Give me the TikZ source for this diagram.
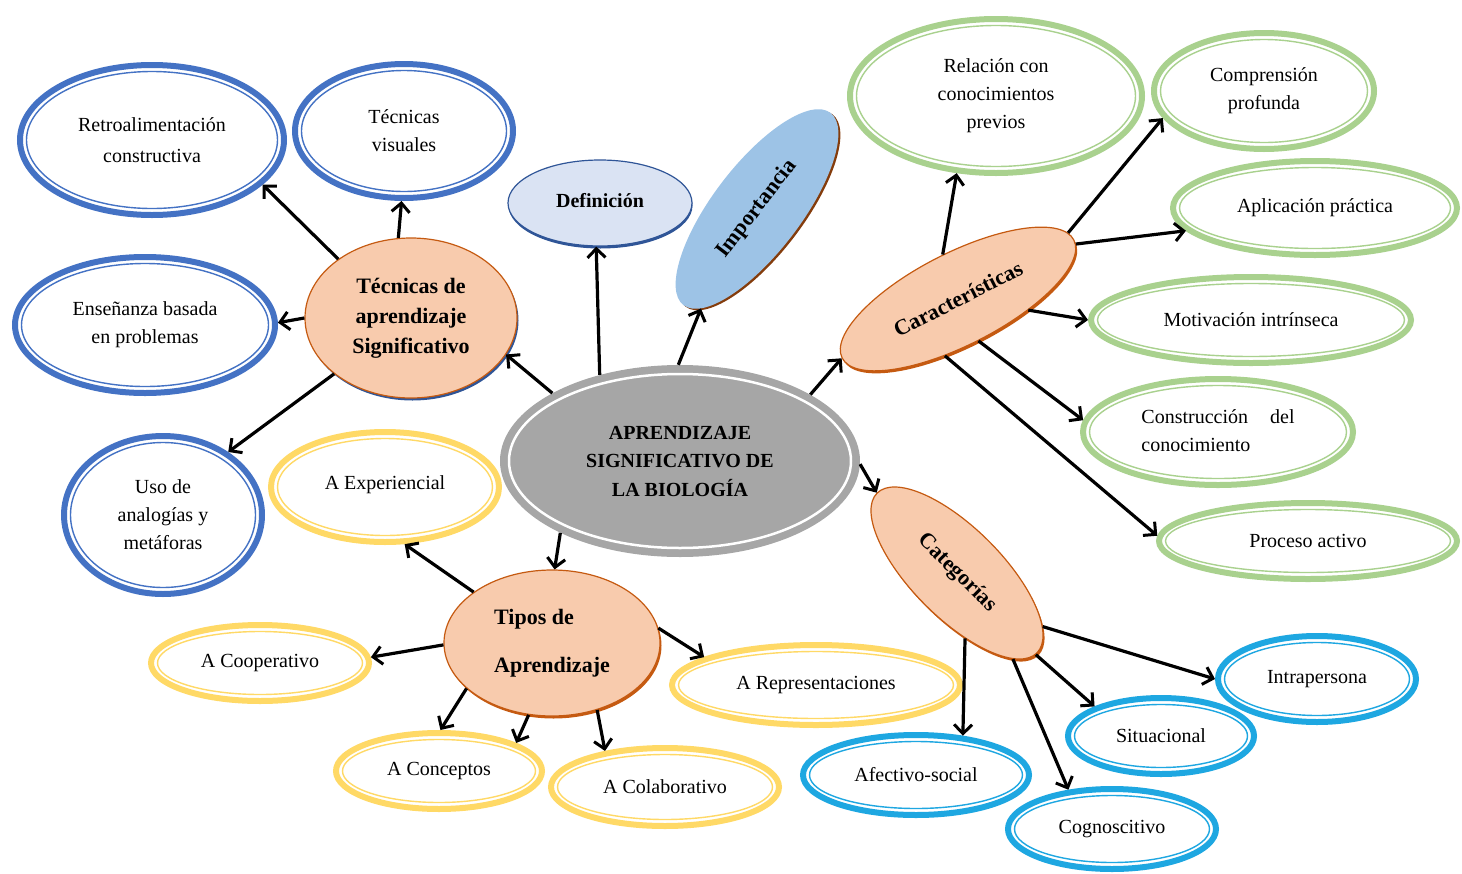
\documentclass[tikz,border=0pt]{standalone}
\usepackage{fontspec}
\setmainfont{Liberation Serif}
\usetikzlibrary{shapes.geometric,arrows.meta,shadows}
\definecolor{ringB}{HTML}{4472C4}
\definecolor{ringG}{HTML}{A9D18E}
\definecolor{ringY}{HTML}{FFD966}
\definecolor{ringC}{HTML}{1EA7E1}
\definecolor{peach}{HTML}{F8CBAD}
\definecolor{peachD}{HTML}{C55A11}
\definecolor{grayC}{HTML}{A6A6A6}
\definecolor{defF}{HTML}{DAE3F3}
\definecolor{defD}{HTML}{2F5597}
\definecolor{impF}{HTML}{9DC3E6}
\definecolor{impD}{HTML}{843C0C}
\newcommand\fsreg{\fontsize{20}{28}\selectfont}
\newcommand\fsbold{\bfseries\fontsize{22}{30}\selectfont}
\newcommand\dnode[7]{%
  \node[ring=#6, minimum width={2*#4-6}, minimum height={2*#5-6}] (#1) at (#2,#3) {#7};
  \draw[#6, line width=1.4pt] (#2,#3) ellipse [x radius={#4-9.5}, y radius={#5-9.5}];
}
\begin{document}
\begin{tikzpicture}[x=1pt,y=-1pt,
  ring/.style={ellipse, draw=#1, line width=6pt, fill=white, inner sep=0pt, align=center, font=\fsreg},
  main/.style={ellipse, inner sep=0pt, align=center, font=\fsbold},
  peachnode/.style={main, fill=peach, draw=peachD, line width=1.2pt,
     general shadow={fill=#1, shadow xshift=1.5pt, shadow yshift=-2.5pt}},
  arr/.style={line width=3.2pt, -{Straight Barb[length=9pt,width=18pt,line width=3pt]}}]
\useasboundingbox (0,0) rectangle (1462,873);

% central node
\node[main, fill=grayC, minimum width=360, minimum height=192,
  font=\bfseries\fontsize{20}{28.5}\selectfont] (cen) at (680,461)
  {APRENDIZAJE\\SIGNIFICATIVO DE\\LA BIOLOGÍA};
\draw[white, line width=2.5pt] (680,461) ellipse [x radius=171, y radius=87];

% main branch nodes
\node[peachnode=defD, minimum width=212, minimum height=160] (tec) at (411,318)
  {Técnicas de\\aprendizaje\\Significativo};
\node[peachnode=peachD, minimum width=216, minimum height=146, align=left] (tip) at (552,643)
  {Tipos de\\[18pt]Aprendizaje};
\node[peachnode=peachD, minimum width=260, minimum height=92, rotate=27] (car) at (958,299)
  {Características};
\node[peachnode=peachD, minimum width=226, minimum height=90, rotate=-45] (cat) at (957,573)
  {Categorías};
\node[main, fill=defF, draw=defD, line width=1.2pt, minimum width=184, minimum height=86,
  font=\bfseries\fontsize{20}{24}\selectfont,
  general shadow={fill=defD, shadow xshift=0.5pt, shadow yshift=-2.5pt}] (def) at (600,203)
  {\raisebox{6pt}{Definición}};
\node[main, fill=impF, minimum width=242, minimum height=88, rotate=52.6,
  general shadow={fill=impD, shadow xshift=2pt, shadow yshift=-1.5pt}] (imp) at (757,209)
  {Importancia};

% blue
\dnode{retro}{152}{140}{135}{78}{ringB}{Retroalimentación\\[3pt]constructiva}
\dnode{vis}{404}{131}{112}{70}{ringB}{Técnicas\\visuales}
\dnode{ens}{145}{325}{133}{71}{ringB}{Enseñanza basada\\en problemas}
\dnode{uso}{163}{515}{102}{82}{ringB}{Uso de\\analogías y\\metáforas}
% green
\dnode{rel}{996}{96}{149}{80}{ringG}{Relación con\\conocimientos\\previos}
\dnode{comp}{1264}{91}{113}{61}{ringG}{Comprensión\\profunda}
\dnode{apl}{1315}{208}{145}{50}{ringG}{\raisebox{4pt}{Aplicación práctica}}
\dnode{mot}{1251}{320}{163}{46}{ringG}{Motivación intrínseca}
\dnode{cons}{1218}{432}{138}{56}{ringG}{\begin{tabular}{@{}l@{}}Construcción\hspace{22pt}del\\conocimiento\end{tabular}}
\dnode{pro}{1308}{541}{152}{41}{ringG}{Proceso activo}
% yellow
\dnode{exp}{385}{487}{117}{58}{ringY}{\raisebox{8pt}{A Experiencial}}
\dnode{coo}{260}{663}{112}{41}{ringY}{A Cooperativo}
\dnode{rep}{816}{685}{147}{43}{ringY}{A Representaciones}
\dnode{con}{439}{771}{106}{41}{ringY}{A Conceptos}
\dnode{col}{665}{787}{117}{42}{ringY}{A Colaborativo}
% cyan
\dnode{intra}{1317}{679}{102}{46}{ringC}{Intrapersona}
\dnode{sit}{1161}{736}{96}{41}{ringC}{Situacional}
\dnode{afe}{916}{775}{116}{43}{ringC}{Afectivo-social}
\dnode{cog}{1112}{829}{107}{43}{ringC}{Cognoscitivo}

% connectors
\draw[arr] (cen.152.5) -- (tec.-21);
\draw[arr] (cen.133.6) -- (def.-95);
\draw[arr] (cen.91) -- (imp.188);
\draw[arr] (cen.27.4) -- (car.180);
\draw[arr] (cen.-1) -- (cat.180);
\draw[arr] (cen.211.5) -- (tip.88);

\draw[arr] (tec.141.7) -- (retro.-22.5);
\draw[arr] (tec.99) -- (vis.-92);
\draw[arr] (tec.180) -- (ens.1);
\draw[arr] (tec.216.6) -- (uso.44);

\draw[arr] (car.82) -- (rel.-117);
\draw[arr] (car.4.4) -- (comp.195);
\draw[arr] (car.-2.2) -- (apl.190);
\draw[arr] (car.-36.8) -- (mot.180);
\draw[arr] (car.-91) -- (cons.175);
\draw[arr] (car.-130) -- (pro.178);

\draw[arr] (cat.13) -- (intra.180);
\draw[arr] (cat.-1) -- (sit.156.5);
\draw[arr] (cat.-38.4) -- (afe.40);
\draw[arr] (cat.-12.7) -- (cog.138);

\draw[arr] (tip.147) -- (exp.-71);
\draw[arr] (tip.181) -- (coo.3.3);
\draw[arr] (tip.8) -- (rep.166);
\draw[arr] (tip.208) -- (con.88);
\draw[arr] (tip.-108.4) -- (con.20);
\draw[arr] (tip.-56.7) -- (col.149);
\end{tikzpicture}
\end{document}
